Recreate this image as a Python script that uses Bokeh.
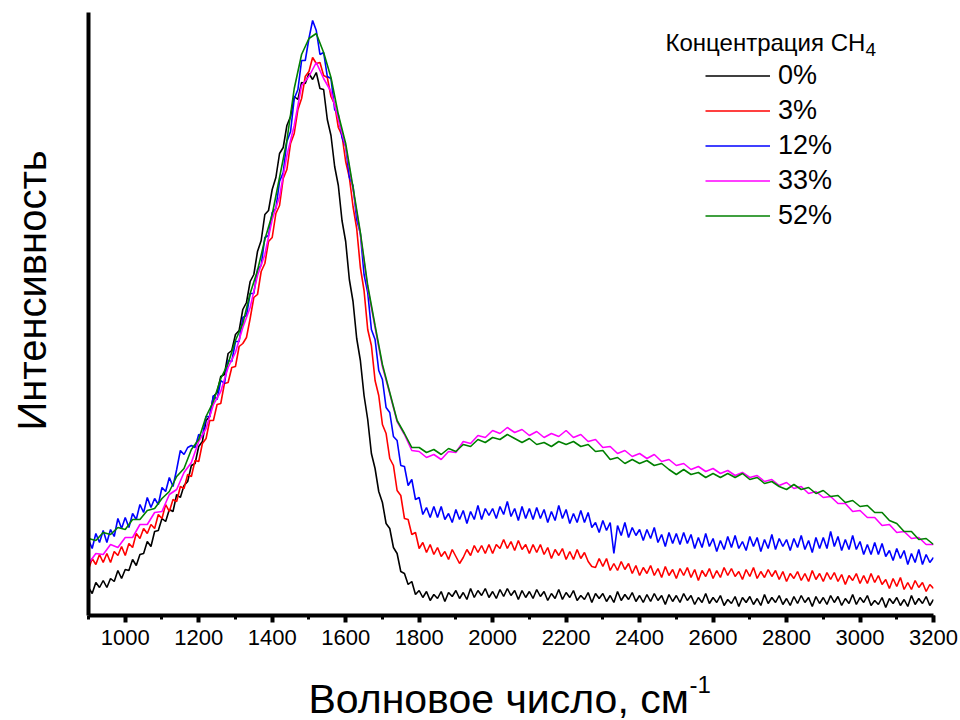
import math
from bokeh.plotting import figure
from bokeh.layouts import row, column
from bokeh.models import (Range1d, Label, Legend, LegendItem,
                          SingleIntervalTicker, FixedTicker)
from bokeh.embed import file_html
from bokeh.resources import INLINE

FONT = "Liberation Sans"

# Raman shift grids (cm^-1)
wavenumber_fine = list(range(900, 3201, 10))   # for the noisier spectra
wavenumber = list(range(900, 3201, 20))        # for the smoother spectra

# Intensity (arbitrary units)
int_0 = [28, 22, 33, 28, 35, 28, 37, 34, 45, 37,
         46, 45, 56, 50, 61, 62, 74, 69, 84, 85,
         97, 94, 106, 104, 121, 118, 130, 134, 150, 152,
         169, 174, 195, 199, 219, 223, 239, 241, 262, 265,
         281, 285, 306, 313, 334, 341, 364, 375, 401, 405,
         426, 438, 462, 468, 490, 499, 519, 516, 533, 532,
         542, 536, 543, 527, 526, 496, 480, 449, 430, 395,
         374, 336, 314, 277, 255, 220, 196, 162, 147, 124,
         113, 92, 87, 68, 62, 44, 42, 31, 34, 21,
         25, 18, 24, 15, 21, 17, 24, 14, 23, 19,
         25, 17, 23, 16, 27, 18, 25, 20, 27, 18,
         24, 17, 26, 19, 27, 20, 25, 16, 25, 18,
         24, 17, 26, 19, 24, 15, 22, 17, 26, 16,
         23, 18, 25, 15, 20, 16, 23, 13, 22, 17,
         22, 14, 20, 13, 24, 15, 21, 16, 23, 14,
         20, 13, 21, 14, 22, 15, 20, 11, 21, 14,
         20, 13, 22, 15, 20, 11, 18, 13, 22, 12,
         18, 13, 20, 10, 16, 12, 19, 9, 18, 13,
         19, 11, 17, 10, 21, 12, 18, 13, 20, 11,
         17, 10, 19, 12, 20, 13, 18, 9, 19, 12,
         18, 11, 20, 13, 19, 10, 17, 12, 21, 11,
         18, 13, 20, 10, 15, 11, 18, 8, 17, 12,
         18, 10, 16, 9, 20, 11, 17, 12, 19, 10,
         16]

int_3 = [46, 57, 51, 61, 53, 62, 53, 64, 60, 69,
         60, 72, 68, 82, 77, 87, 82, 91, 87, 101,
         97, 111, 104, 116, 114, 129, 127, 141, 139, 155,
         154, 172, 177, 195, 195, 211, 212, 232, 233, 248,
         249, 269, 272, 278, 297, 318, 321, 344, 352, 374,
         378, 402, 410, 437, 446, 472, 482, 506, 517, 539,
         544, 558, 552, 553, 540, 538, 519, 511, 488, 480,
         454, 438, 409, 387, 348, 325, 286, 270, 235, 220,
         191, 182, 157, 150, 125, 120, 97, 96, 81, 83,
         67, 73, 63, 71, 61, 68, 59, 64, 56, 66,
         59, 52, 58, 66, 60, 70, 63, 70, 62, 71,
         62, 71, 67, 76, 67, 74, 65, 75, 66, 71,
         62, 71, 63, 71, 61, 68, 57, 66, 60, 67,
         56, 64, 56, 66, 57, 63, 54, 49, 48, 57,
         49, 57, 45, 52, 45, 54, 46, 52, 42, 50,
         40, 48, 42, 50, 40, 47, 38, 49, 40, 46,
         37, 47, 40, 48, 38, 46, 35, 45, 39, 47,
         37, 45, 38, 48, 40, 47, 39, 44, 36, 46,
         39, 48, 37, 44, 38, 46, 39, 45, 36, 44,
         34, 42, 37, 44, 35, 42, 34, 45, 36, 42,
         34, 43, 36, 43, 34, 41, 31, 40, 35, 42,
         32, 40, 32, 42, 33, 40, 31, 36, 27, 37,
         29, 38, 26, 33, 26, 35, 28, 33, 24, 31,
         27]

int_12 = [76, 67, 82, 73, 85, 73, 86, 79, 97, 87,
          98, 88, 102, 96, 111, 103, 118, 108, 117, 111,
          128, 124, 138, 129, 146, 165, 161, 168, 170, 168,
          181, 179, 199, 199, 220, 216, 235, 232, 255, 254,
          274, 274, 298, 300, 322, 322, 346, 350, 378, 380,
          403, 407, 434, 443, 474, 484, 517, 526, 555, 555,
          577, 595, 585, 561, 563, 539, 537, 506, 501, 478,
          469, 438, 430, 396, 382, 341, 323, 286, 276, 245,
          236, 208, 203, 179, 175, 150, 149, 130, 136, 116,
          118, 101, 108, 98, 109, 98, 109, 96, 102, 93,
          106, 96, 105, 92, 104, 96, 110, 96, 107, 100,
          107, 97, 109, 101, 114, 99, 107, 95, 109, 97,
          107, 96, 108, 97, 106, 93, 104, 95, 110, 97,
          106, 92, 102, 93, 105, 93, 103, 88, 93, 83,
          95, 85, 93, 62, 90, 80, 93, 78, 88, 80,
          86, 75, 86, 77, 88, 73, 81, 69, 83, 72,
          82, 71, 83, 72, 81, 67, 78, 68, 82, 69,
          77, 64, 75, 66, 79, 68, 80, 67, 74, 65,
          79, 69, 78, 64, 76, 67, 81, 66, 77, 69,
          76, 65, 77, 68, 80, 66, 75, 63, 78, 67,
          78, 67, 84, 69, 79, 65, 76, 66, 80, 66,
          74, 61, 71, 61, 73, 61, 72, 59, 65, 55,
          67, 57, 65, 51, 62, 53, 66, 51, 61, 53,
          58]

int_33 = [52, 62, 61, 71, 68, 78, 78, 91, 91, 103,
          104, 121, 126, 143, 153, 174, 187, 211, 224, 248,
          263, 288, 308, 340, 361, 396, 419, 460, 490, 530,
          539, 553, 537, 524, 496, 469, 426, 381, 328, 288,
          249, 222, 194, 181, 165, 164, 158, 161, 156, 164,
          163, 174, 172, 180, 178, 185, 182, 188, 183, 186,
          180, 184, 178, 182, 179, 185, 178, 181, 174, 176,
          168, 169, 162, 165, 159, 162, 157, 161, 154, 156,
          150, 152, 146, 149, 144, 147, 142, 145, 140, 143,
          138, 140, 134, 136, 130, 133, 127, 129, 122, 124,
          118, 119, 112, 112, 104, 105, 98, 98, 90, 91,
          83, 84, 77, 78, 71, 71]

int_52 = [77, 75, 83, 81, 88, 86, 96, 96, 105, 107,
          117, 124, 139, 147, 166, 176, 199, 214, 237, 252,
          275, 292, 322, 345, 376, 401, 438, 475, 527, 561,
          577, 582, 563, 538, 501, 472, 428, 383, 330, 290,
          251, 223, 195, 182, 168, 168, 163, 166, 161, 167,
          164, 171, 169, 176, 173, 178, 176, 181, 177, 173,
          177, 171, 173, 169, 174, 171, 174, 169, 171, 164,
          165, 156, 158, 152, 156, 152, 155, 150, 152, 146,
          141, 146, 141, 143, 138, 142, 138, 142, 138, 142,
          136, 138, 132, 134, 129, 126, 131, 126, 128, 122,
          125, 119, 120, 113, 115, 109, 110, 103, 103, 95,
          92, 84, 84, 76, 77, 71]

series_labels = ["0%", "3%", "12%", "33%", "52%"]
series_x = [wavenumber_fine, wavenumber_fine, wavenumber_fine, wavenumber, wavenumber]
series_values = [int_0, int_3, int_12, int_33, int_52]
series_colors = ["#000000", "#ff0000", "#0000ff", "#ff00ff", "#008000"]

# ---------------- main plot ----------------
p = figure(width=900, height=665,
           min_border_left=28, min_border_right=27,
           min_border_top=12, min_border_bottom=50,
           x_range=Range1d(900, 3200), y_range=Range1d(0, 603),
           output_backend="svg", toolbar_location=None,
           background_fill_color="white", border_fill_color="white")

p.xgrid.visible = False
p.ygrid.visible = False
p.outline_line_color = None

xa = p.xaxis[0]
xa.ticker = SingleIntervalTicker(interval=200, num_minor_ticks=2)
xa.axis_line_width = 4
xa.axis_line_color = "black"
xa.major_tick_line_width = 4
xa.major_tick_out = 7
xa.major_tick_in = 0
xa.minor_tick_line_width = 3
xa.minor_tick_out = 4
xa.minor_tick_in = 0
xa.major_label_text_font = FONT
xa.major_label_text_font_size = "22px"
xa.major_label_text_color = "black"
xa.major_label_standoff = 7

ya = p.yaxis[0]
ya.ticker = FixedTicker(ticks=[])
ya.axis_line_width = 4
ya.axis_line_color = "black"
ya.major_tick_line_color = None
ya.minor_tick_line_color = None

renderers = []
for xs, vals, col in zip(series_x, series_values, series_colors):
    r = p.line(xs, vals, line_color=col, line_width=1.6)
    renderers.append(r)

legend = Legend(items=[LegendItem(label=lab, renderers=[r])
                       for lab, r in zip(series_labels, renderers)],
                location=(617, 382), orientation="vertical",
                glyph_width=65, glyph_height=35, label_height=35,
                spacing=0, padding=0, margin=0, label_standoff=8,
                label_text_font=FONT, label_text_font_size="27px",
                label_text_color="black",
                border_line_color=None, background_fill_alpha=0)
p.add_layout(legend)


def add_text(fig, x, y, text, size, angle=0.0, align="left", baseline="alphabetic"):
    fig.add_layout(Label(x=x, y=y, x_units="screen", y_units="screen", text=text,
                         text_font=FONT, text_font_size=size, text_color="black",
                         angle=angle, text_align=align, text_baseline=baseline))


add_text(p, 577, 573, "Концентрация CH", "24px")
add_text(p, 777, 566, "4", "19px")


def blank(width, height):
    f = figure(width=width, height=height,
               min_border=0, min_border_left=0, min_border_right=0,
               min_border_top=0, min_border_bottom=0,
               x_range=Range1d(0, 1), y_range=Range1d(0, 1),
               x_axis_type=None, y_axis_type=None,
               output_backend="svg", toolbar_location=None,
               background_fill_color="white", border_fill_color="white")
    f.outline_line_color = None
    f.grid.visible = False
    return f


# ---------------- axis titles ----------------
# (the strips' drawing areas line up with the main plot's frame)
yfig = blank(60, 665)
add_text(yfig, 31, 325, "Интенсивность", "40px", angle=math.pi / 2,
         align="center", baseline="middle")

xfig = blank(960, 55)
add_text(xfig, 308, 22, "Волновое число, см", "41px")
add_text(xfig, 689, 36, "-1", "24px")

layout = column(row(yfig, p, spacing=0), xfig, spacing=0)

open("out.html", "w").write(file_html(layout, INLINE, title="Raman"))
